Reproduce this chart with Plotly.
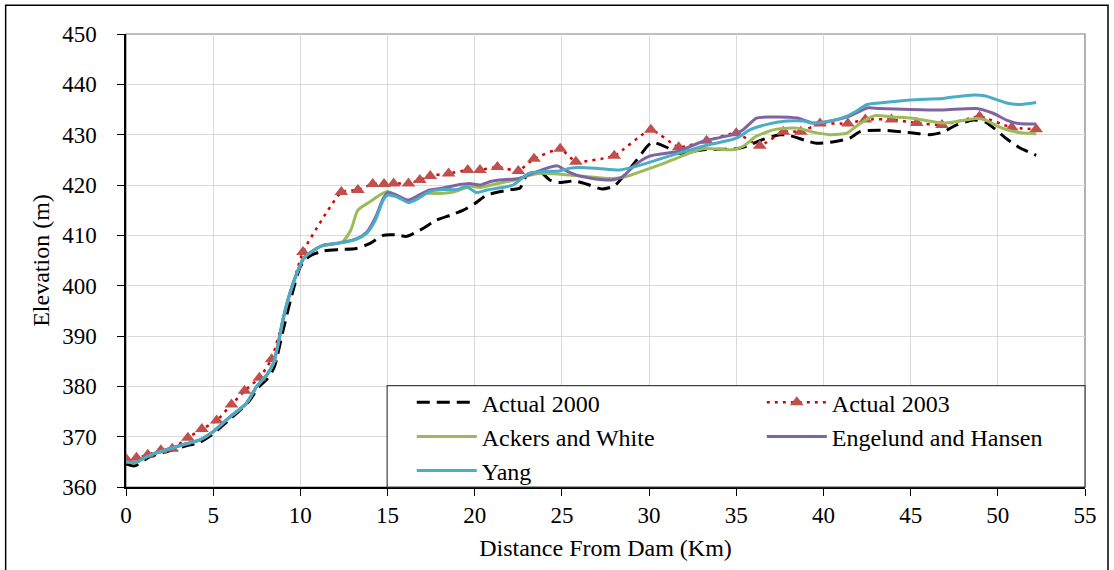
import plotly.graph_objects as go

# ---------------- data ----------------
km_2000 = [0, 0.5, 1.35, 2.5, 3.45, 4.2, 5.0, 6.0, 7.0, 7.6, 8.1, 8.5, 9.0, 9.5, 10.0, 10.5,
           11.3, 12.3, 13.2, 14.0, 14.75, 15.5, 16.1, 17.05, 17.8, 18.6, 19.35, 20.0, 20.7,
           22.1, 22.6, 23.0, 23.75, 24.3, 24.9, 25.7, 26.4, 27.3, 28.0, 28.6, 29.3, 29.9,
           30.2, 31.0, 31.6, 33.1, 35.0, 35.6, 36.5, 37.5, 38.1, 39.0, 39.6, 40.6, 41.5,
           42.1, 43.2, 45.0, 46.1, 46.85, 47.6, 48.6, 49.3, 50.5, 51.2, 52.2]
el_2000 = [364.6, 364.2, 366.0, 367.2, 368.2, 368.8, 370.6, 373.6, 376.8, 379.8, 381.5, 383.8,
           391.0, 398.0, 403.8, 405.8, 406.9, 407.2, 407.4, 408.4, 410.0, 410.1, 409.8, 411.4,
           413.0, 414.0, 415.0, 416.3, 418.0, 419.1, 419.4, 422.0, 422.6, 421.0, 420.5, 420.8,
           420.2, 419.2, 419.8, 422.0, 425.0, 427.7, 428.5, 427.5, 426.3, 427.0, 427.2, 427.7,
           429.0, 430.0, 429.8, 428.8, 428.3, 428.6, 429.3, 430.6, 430.9, 430.4, 430.0, 430.5,
           431.9, 432.9, 432.5, 429.2, 427.5, 425.9]

km_2003 = [0.0, 0.6, 1.25, 2.0, 2.65, 3.55, 4.35, 5.2, 6.05, 6.8, 7.65, 8.35, 10.15, 12.35,
           13.3, 14.15, 14.8, 15.35, 16.2, 16.85, 17.45, 18.5, 19.6, 20.3, 21.3, 22.5, 23.4,
           24.9, 25.8, 28.0, 30.1, 31.7, 33.3, 35.0, 36.35, 37.7, 38.7, 39.8, 41.4, 42.4,
           43.9, 45.35, 46.8, 48.95, 50.8, 52.2]
el_2003 = [365.6, 365.8, 366.4, 367.3, 367.6, 369.8, 371.5, 373.2, 376.4, 379.1, 381.7, 385.4,
           406.7, 418.6, 419.0, 420.2, 420.2, 420.3, 420.3, 421.0, 421.8, 422.3, 423.0, 423.0,
           423.6, 422.8, 425.2, 427.2, 424.6, 425.8, 431.0, 427.5, 428.8, 430.3, 427.8, 430.6,
           430.6, 432.2, 432.2, 433.0, 433.0, 432.3, 431.9, 433.6, 431.4, 431.1]

km_ackers = [0, 0.5, 1.35, 2.5, 3.45, 4.2, 5.0, 5.95, 6.9, 7.5, 8.06, 8.45, 8.73, 9.0, 9.4,
             9.8, 10.2, 10.75, 11.3, 12.0, 12.45, 12.9, 13.3, 14.0, 14.55, 15.0, 15.5, 16.2,
             17.05, 18.0, 18.6, 19.35, 19.7, 20.3, 21.2, 22.3, 23.2, 23.7, 24.75, 25.4, 26.4,
             27.9, 28.7, 29.8, 31.0, 31.7, 33.1, 34.8, 35.4, 36.15, 37.3, 38.5, 39.4, 40.4,
             41.35, 41.9, 42.5, 43.0, 44.0, 45.0, 46.85, 47.8, 48.75, 49.3, 50.1, 51.05, 52.2]
el_ackers = [365.0, 364.8, 366.3, 367.6, 368.6, 369.3, 371.0, 373.9, 376.6, 380.0, 382.2,
             384.5, 388.5, 393.2, 398.5, 402.5, 405.5, 407.0, 408.0, 408.3, 408.8, 411.1, 415.0,
             416.7, 418.0, 418.7, 418.0, 416.8, 418.3, 418.3, 418.5, 419.3, 419.8, 419.5, 420.2,
             421.0, 422.0, 422.3, 422.2, 422.0, 421.7, 421.3, 421.7, 423.0, 424.5, 425.5, 427.2,
             427.0, 427.7, 429.7, 431.1, 431.3, 430.5, 430.0, 430.3, 431.7, 433.1, 433.8, 433.5,
             433.3, 432.3, 432.7, 433.2, 432.9, 431.5, 430.5, 430.2]

km_engelund = [0, 0.5, 1.35, 2.5, 3.45, 4.2, 5.0, 5.95, 6.9, 7.5, 8.06, 8.45, 8.73, 9.0, 9.4,
               9.8, 10.2, 10.75, 11.3, 12.26, 13.2, 13.8, 14.3, 14.75, 15.0, 15.5, 16.2, 16.7,
               17.4, 18.2, 19.0, 19.7, 20.3, 20.9, 21.4, 22.55, 23.3, 24.1, 24.75, 25.1, 25.8,
               26.75, 27.9, 28.5, 29.2, 30.0, 31.0, 31.7, 33.1, 34.8, 35.4, 36.15, 36.9, 38.5,
               39.4, 40.4, 41.5, 42.5, 43.2, 45.0, 46.85, 48.75, 49.7, 50.5, 51.2, 52.2]
el_engelund = [365.0, 364.8, 366.3, 367.6, 368.6, 369.3, 371.0, 373.9, 376.6, 380.0, 382.2,
               384.5, 388.5, 393.2, 398.5, 402.5, 405.5, 407.0, 408.0, 408.5, 409.3, 410.6,
               413.5, 417.3, 418.5, 418.0, 417.0, 417.8, 419.0, 419.4, 420.0, 420.3, 420.0,
               420.7, 421.0, 421.3, 422.3, 423.3, 423.8, 423.1, 422.0, 421.3, 421.0, 421.7,
               424.0, 425.7, 426.3, 426.7, 428.7, 430.0, 431.0, 433.3, 433.5, 433.3, 432.3,
               432.7, 433.7, 435.3, 435.2, 435.0, 434.9, 435.2, 434.3, 432.9, 432.2, 432.1]

km_yang = [0, 0.5, 1.35, 2.5, 3.45, 4.2, 5.0, 5.95, 6.9, 7.5, 8.06, 8.45, 8.73, 9.0, 9.4, 9.8,
           10.2, 10.75, 11.3, 12.26, 13.2, 13.8, 14.3, 14.75, 15.0, 15.5, 16.2, 16.7, 17.4,
           18.2, 19.0, 19.5, 20.1, 20.7, 21.2, 22.2, 23.1, 24.1, 24.85, 25.4, 26.0, 27.1, 28.3,
           29.25, 30.2, 31.1, 31.7, 33.1, 35.0, 35.8, 36.7, 37.9, 38.85, 39.4, 40.4, 41.35,
           41.9, 42.5, 43.2, 45.0, 46.85, 48.6, 49.3, 50.5, 51.2, 52.2]
el_yang = [365.0, 364.8, 366.3, 367.6, 368.6, 369.3, 371.0, 373.9, 376.6, 380.0, 382.2, 384.5,
           388.5, 393.2, 398.5, 402.5, 405.5, 407.0, 408.0, 408.5, 409.2, 410.4, 413.0, 417.0,
           418.0, 417.7, 416.5, 417.2, 418.7, 419.1, 419.1, 419.7, 418.5, 419.0, 419.3, 420.0,
           422.3, 422.7, 422.8, 423.3, 423.5, 423.3, 423.0, 423.7, 424.7, 425.7, 426.3, 427.7,
           429.3, 431.0, 432.0, 432.7, 432.7, 432.3, 432.7, 433.7, 434.7, 436.0, 436.3, 436.9,
           437.2, 437.9, 437.7, 436.3, 436.0, 436.4]

x_ticks = list(range(0, 56, 5))
y_ticks = list(range(360, 451, 10))

# ---------------- figure ----------------
FONT = "Liberation Serif"
fig = go.Figure()

fig.add_trace(go.Scatter(x=km_2000, y=el_2000, mode="lines", name="Actual 2000",
                         line=dict(color="#000000", width=3, dash="13px,7px", shape="spline", smoothing=0.6),
                         legend="legend"))
fig.add_trace(go.Scatter(x=km_2003, y=el_2003, mode="lines+markers", name="Actual 2003",
                         line=dict(color="#D80000", width=2.5, dash="3px,5px", shape="spline", smoothing=0.4),
                         marker=dict(symbol="triangle-up", size=12, color="#C0504D"),
                         legend="legend2"))
fig.add_trace(go.Scatter(x=km_ackers, y=el_ackers, mode="lines", name="Ackers and White",
                         line=dict(color="#9BBB59", width=3, shape="spline", smoothing=0.6),
                         legend="legend"))
fig.add_trace(go.Scatter(x=km_engelund, y=el_engelund, mode="lines", name="Engelund and Hansen",
                         line=dict(color="#8064A2", width=3, shape="spline", smoothing=0.6),
                         legend="legend2"))
fig.add_trace(go.Scatter(x=km_yang, y=el_yang, mode="lines", name="Yang",
                         line=dict(color="#4BACC6", width=3, shape="spline", smoothing=0.6),
                         legend="legend"))

legend_common = dict(font=dict(family=FONT, size=24, color="#000000"),
                     bgcolor="rgba(0,0,0,0)", borderwidth=0, itemwidth=60,
                     xanchor="left", yanchor="top", tracegroupgap=0)

fig.update_layout(
    width=1114, height=570,
    margin=dict(l=126, r=29, t=34, b=83),
    paper_bgcolor="white", plot_bgcolor="white",
    font=dict(family=FONT, size=23, color="#000000"),
    showlegend=True,
    legend=dict(x=0.298, y=0.236, **legend_common),
    legend2=dict(x=0.663, y=0.236, **legend_common),
    xaxis=dict(range=[0, 55], tickmode="array", tickvals=x_ticks,
               showgrid=True, gridcolor="#D9D9D9", gridwidth=1,
               showline=True, linecolor="#000000", linewidth=1.5,
               ticks="outside", ticklen=7, tickcolor="#000000", tickwidth=1.2,
               tickfont=dict(family=FONT, size=23, color="#000000"),
               title=dict(text="Distance From Dam (Km)", font=dict(family=FONT, size=24, color="#000000"), standoff=12),
               zeroline=False),
    yaxis=dict(range=[360, 450], tickmode="array", tickvals=y_ticks,
               showgrid=True, gridcolor="#D9D9D9", gridwidth=1,
               showline=True, linecolor="#000000", linewidth=1.5,
               ticks="outside", ticklen=7, tickcolor="#000000", tickwidth=1.2,
               ticklabelstandoff=16,
               tickfont=dict(family=FONT, size=23, color="#000000"),
               title=dict(text="Elevation (m)", font=dict(family=FONT, size=24, color="#000000"), standoff=6),
               zeroline=False),
    shapes=[
        # plot-area border (gray)
        dict(type="rect", xref="paper", yref="paper", x0=0, x1=1, y0=0, y1=1,
             line=dict(color="#7F7F7F", width=1.2), fillcolor="rgba(0,0,0,0)", layer="below"),
        # legend box
        dict(type="rect", xref="paper", yref="paper", x0=0.2723, x1=1, y0=0, y1=0.224,
             line=dict(color="#404040", width=1.2), fillcolor="white", layer="above"),
        # outer chart frame
        dict(type="rect", xref="paper", yref="paper", x0=-0.1255, x1=1.024, y0=-0.21, y1=1.0636,
             line=dict(color="#000000", width=1.5), fillcolor="rgba(0,0,0,0)", layer="above"),
    ],
)

fig.write_html("out.html")
